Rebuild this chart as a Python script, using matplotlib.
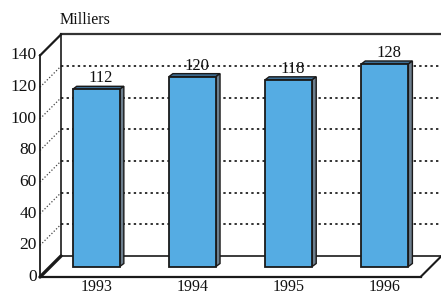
import matplotlib
matplotlib.use("Agg")
import matplotlib.pyplot as plt
from matplotlib.transforms import ScaledTranslation
from matplotlib.patches import Polygon

years = ["1993", "1994", "1995", "1996"]
values = [112, 120, 118, 128]
yticks = [0, 20, 40, 60, 80, 100, 120, 140]
unit_label = "Milliers"

W, H = 441, 296
fig = plt.figure(figsize=(W / 100, H / 100), dpi=100)
# mid-depth plane axes
ax = fig.add_axes([50.5 / W, (H - 266.5) / H, (431 - 50.5) / W, (266.5 - 45) / H])
xl, xr = -0.476, 3.48
ax.set_xlim(xl, xr)
ax.set_ylim(0, 140)
ax.axis("off")

serif = ["Liberation Serif", "DejaVu Serif"]
dpt = fig.dpi_scale_trans
d = 0.105
front = ax.transData + ScaledTranslation(-d, -d, dpt)
back = ax.transData + ScaledTranslation(d, d, dpt)

lc = "#1a1a1a"
# back wall grid lines (dotted)
for t in yticks[1:-1]:
    ax.plot([xl, xr + 1], [t, t], transform=back, color="#222222", lw=1.3,
            ls=(0, (1.3, 1.8)), clip_on=False)
# diagonal dotted on left wall
for t in yticks[1:-1]:
    p0 = front.transform((xl, t))
    p1 = back.transform((xl, t))
    ax.plot([p0[0], p1[0]], [p0[1], p1[1]], transform=None, color="#444444",
            lw=0.9, ls=(0, (1, 1.6)), clip_on=False)

# back wall top and left edges
ax.plot([xl, xr + 1], [140, 140], transform=back, color="#333333", lw=1.6, clip_on=False)
ax.plot([xl, xl], [0, 140], transform=back, color=lc, lw=1.2, clip_on=False)
ax.plot([xl, xr + 1], [0, 0], transform=back, color=lc, lw=1.2, clip_on=False)
# front left axis
ax.plot([xl, xl], [0, 140], transform=front, color=lc, lw=1.3, clip_on=False)
ax.plot([xl, xr], [0, 0], transform=front, color=lc, lw=1.6, clip_on=False)
for x, lw in [(xl, 2.4), (xr, 1.5)]:
    p0 = front.transform((x, 0))
    p1 = back.transform((x, 0))
    ax.plot([p0[0], p1[0]], [p0[1], p1[1]], transform=None, color=lc, lw=lw,
            clip_on=False, solid_capstyle="round")
p0 = front.transform((xl, 140))
p1 = back.transform((xl, 140))
ax.plot([p0[0], p1[0]], [p0[1], p1[1]], transform=None, color=lc, lw=1.6, clip_on=False)

# tick labels
for t in yticks:
    ax.text(xl, t, str(t), transform=front + ScaledTranslation(-0.035, 0, dpt),
            ha="right", va="center", fontsize=12.5, family=serif, color="#111111")

# bars
bw = 0.49
dx, dy = 4, 3
face = "#55ACE3"
for i, v in enumerate(values):
    x0, x1 = i - bw / 2, i + bw / 2
    a = ax.transData.transform((x0, v))
    b = ax.transData.transform((x1, v))
    c = ax.transData.transform((x1, 0))
    top = [(a[0], a[1]), (b[0], b[1]), (b[0] + dx, b[1] + dy), (a[0] + dx, a[1] + dy)]
    side = [(b[0], b[1]), (c[0], c[1]), (c[0] + dx, c[1] + dy), (b[0] + dx, b[1] + dy)]
    ax.add_patch(Polygon(top, closed=True, transform=None, facecolor="#3d6f96",
                         edgecolor=lc, lw=1.0, clip_on=False, zorder=3))
    ax.add_patch(Polygon(side, closed=True, transform=None, facecolor="#6d7f8e",
                         edgecolor=lc, lw=1.0, clip_on=False, zorder=3))
    ax.bar(i, v, width=bw, bottom=0, color=face, edgecolor=lc, lw=1.3, zorder=4,
           clip_on=False)
    ax.text(i, v, str(v), transform=ax.transData + ScaledTranslation(0.04, 0.03, dpt),
            ha="center", va="bottom", fontsize=12, family=serif, color="#111111", zorder=5)
    ax.text(i, 0, years[i], transform=ax.transData + ScaledTranslation(0, -0.125, dpt),
            ha="center", va="top", fontsize=11.5, family=serif, color="#111111")

fig.text(60 / W, 1 - 20 / H, unit_label, ha="left", va="center", fontsize=11.5,
         family=serif, color="#111111")

fig.savefig("out.png", dpi=100)
